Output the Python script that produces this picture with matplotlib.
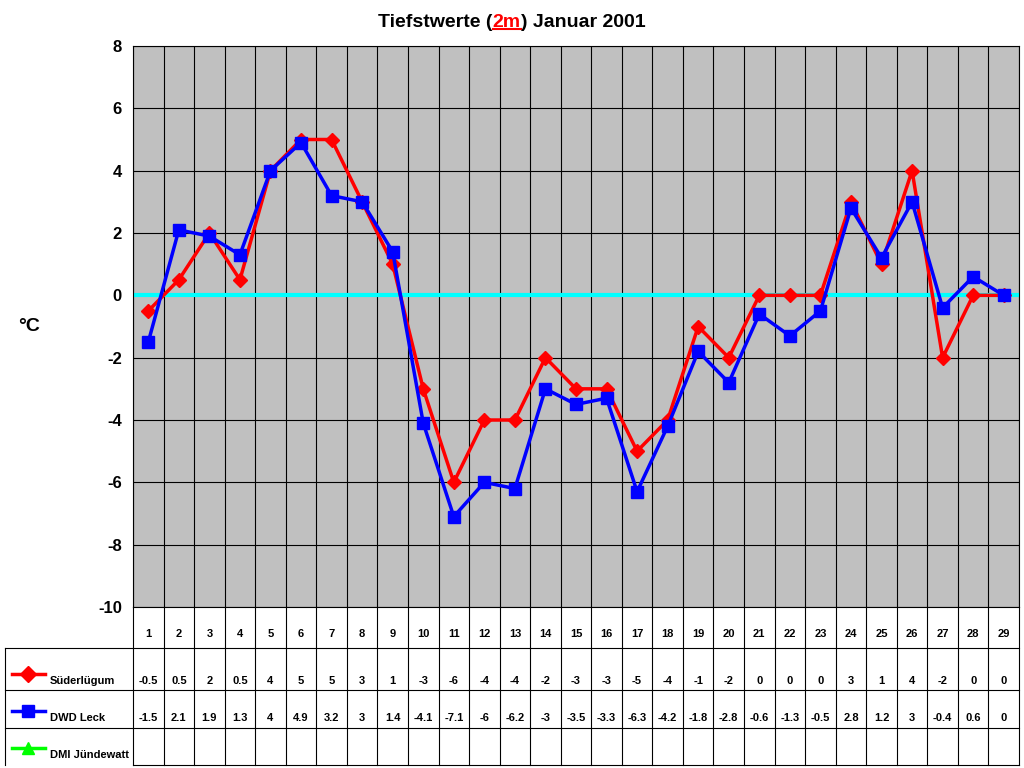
import matplotlib
matplotlib.use("Agg")
import matplotlib.pyplot as plt
import numpy as np

plt.rcParams['font.family'] = ['Liberation Sans', 'DejaVu Sans']

days = list(range(1, 30))
sued = [-0.5,0.5,2,0.5,4,5,5,3,1,-3,-6,-4,-4,-2,-3,-3,-5,-4,-1,-2,0,0,0,3,1,4,-2,0,0]
leck = [-1.5,2.1,1.9,1.3,4,4.9,3.2,3,1.4,-4.1,-7.1,-6,-6.2,-3,-3.5,-3.3,-6.3,-4.2,-1.8,-2.8,-0.6,-1.3,-0.5,2.8,1.2,3,-0.4,0.6,0]
series_names = ["Süderlügum", "DWD Leck", "DMI Jündewatt"]
series_colors = ["#FF0000", "#0000FF", "#00FF00"]
series_markers = ["D", "s", "^"]
yticks = list(range(-10, 9, 2))

W, H = 1024, 768
fig = plt.figure(figsize=(W/100, H/100), dpi=100)
x0, x1, y0, y1 = 133, 1019, 46, 607
ax = fig.add_axes([x0/W, 1-y1/H, (x1-x0)/W, (y1-y0)/H])
ax.set_facecolor("#C0C0C0")
n = len(days)
ax.set_xlim(0.5, n+0.5)
ax.set_ylim(-10, 8)
for b in np.arange(0.5, n+1, 1):
    ax.axvline(b, color="black", lw=0.8)
for t in yticks:
    ax.axhline(t, color="black", lw=0.8)
ax.axhline(0, color="#00FFFF", lw=3)
ax.plot(days, sued, color="#FF0000", lw=2.5, marker="D", ms=7, zorder=3)
ax.plot(days, leck, color="#0000FF", lw=2.5, marker="s", ms=9, zorder=4)
ax.set_xticks([])
ax.set_yticks(yticks)
ax.set_yticklabels([str(t) for t in yticks], fontsize=12, fontweight="bold")
ax.tick_params(axis="y", length=0, pad=8)
for s in ax.spines.values():
    s.set_color("black")
fig.text(18/W, 1-326/H, "°C", fontsize=14, fontweight="bold", va="center")

# title
parts = [("Tiefstwerte (", "black", False), ("2m", "red", True), (") Januar 2001", "black", False)]
r = fig.canvas.get_renderer()
texts = [fig.text(0, 0, p, fontsize=14, fontweight="bold", color=c) for p, c, u in parts]
widths = [t.get_window_extent(r).width for t in texts]
xs = W/2 - sum(widths)/2
for t, w, (p, c, u) in zip(texts, widths, parts):
    t.set_position((xs/W, 1-27/H))
    if u:
        fig.add_artist(plt.Line2D([xs/W, (xs+w)/W], [1-29/H, 1-29/H], color=c, lw=1.5))
    xs += w

# table
tax = fig.add_axes([0, 0, 1, 1])
tax.set_xlim(0, W); tax.set_ylim(H, 0); tax.axis("off")
cw = (x1-x0)/n
rows = [607, 648, 690, 728, 765]
lw = 0.8
for i in range(n+1):
    tax.plot([x0+i*cw]*2, [607, 765], color="black", lw=lw)
tax.plot([5, 5], [648, 765], color="black", lw=lw)
tax.plot([x0, x1], [765, 765], color="black", lw=lw)
for yy in rows[1:4]:
    tax.plot([5, x1], [yy, yy], color="black", lw=lw)
for i, d in enumerate(days):
    tax.text(x0+(i+0.5)*cw, 634, str(d), ha="center", va="center", fontsize=8, fontweight="bold")
vals = [sued, leck, None]
for k in range(3):
    ytxt = [681, 718, 755][k]
    ymark = [674, 711, 748][k]
    tax.plot([12, 45], [ymark, ymark], color=series_colors[k], lw=2.5)
    tax.plot([28], [ymark], marker=series_markers[k], color=series_colors[k], ms=8)
    tax.text(50, ytxt, series_names[k], fontsize=8, fontweight="bold", va="center")
    if vals[k] is not None:
        for i, v in enumerate(vals[k]):
            s = f"{v:g}"
            tax.text(x0+(i+0.5)*cw, ytxt, s, ha="center", va="center", fontsize=8, fontweight="bold")

fig.savefig("out.png", dpi=100, facecolor="white")
